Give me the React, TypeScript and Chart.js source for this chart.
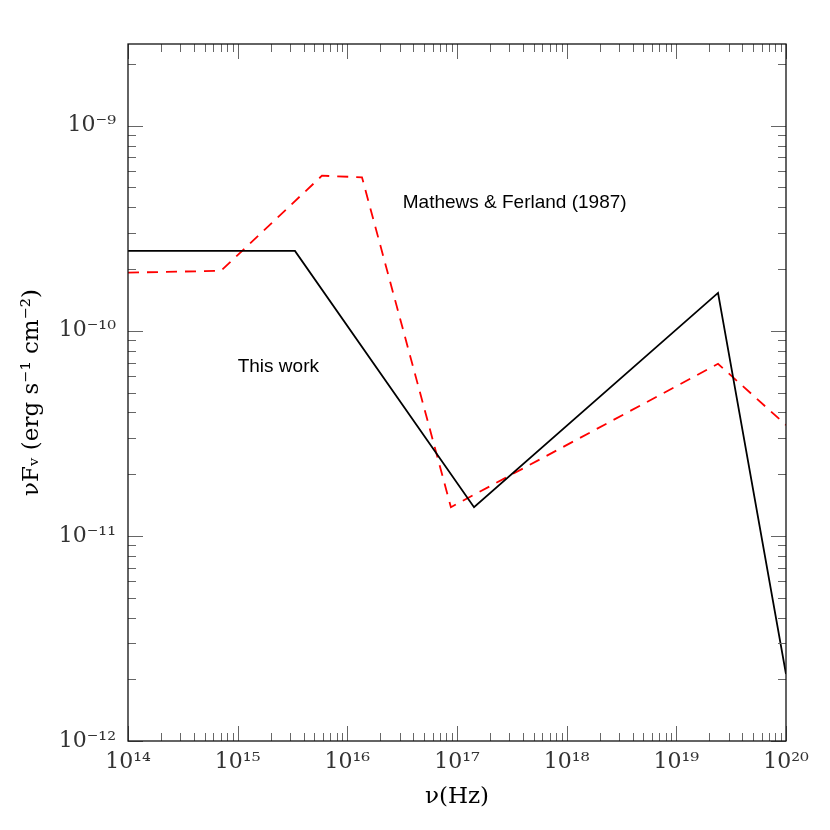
import React, { useEffect, useRef } from "react";
import { Chart, registerables } from "chart.js";

Chart.register(...registerables);

// Data
const thisWorkNu = [1e14, 3.33e15, 1.43e17, 2.4e19, 1e20];
const thisWorkFlux = [2.45e-10, 2.45e-10, 1.38e-11, 1.53e-10, 2.12e-12];

const mathewsNu = [1e14, 7.05e14, 5.87e15, 1.36e16, 8.8e16, 2.4e19, 1e20];
const mathewsFlux = [1.92e-10, 1.96e-10, 5.7e-10, 5.6e-10, 1.38e-11, 6.9e-11, 3.47e-11];

const xDecades = [14, 15, 16, 17, 18, 19, 20];
const yDecades = [-12, -11, -10, -9];

const annotations = [
  { text: "Mathews & Ferland (1987)", nu: 3.2e16, flux: 4.2e-10 },
  { text: "This work", nu: 1.0e15, flux: 6.67e-11 },
];

const supMap: Record<string, string> = {
  "0": "\u2070", "1": "\u00b9", "2": "\u00b2", "3": "\u00b3", "4": "\u2074",
  "5": "\u2075", "6": "\u2076", "7": "\u2077", "8": "\u2078", "9": "\u2079", "-": "\u207b",
};
const sup = (n: number) => String(n).split("").map((c) => supMap[c]).join("");

const pow10Label = (v: number) => {
  const e = Math.round(Math.log10(v));
  return "10" + sup(e);
};

const tickPlugin = {
  id: "inwardTicks",
  afterDraw(chart: any) {
    const { ctx, chartArea, scales } = chart;
    const { left, right, top, bottom } = chartArea;
    const xs = scales.x;
    const ys = scales.y;
    ctx.save();
    ctx.strokeStyle = "#666";
    ctx.lineWidth = 1;
    const major = 15;
    const minor = 8;
    for (let e = xDecades[0]; e <= xDecades[xDecades.length - 1]; e++) {
      for (let m = 1; m <= 9; m++) {
        const v = m * Math.pow(10, e);
        if (v > xs.max * 1.0001 || v < xs.min * 0.9999) continue;
        const px = Math.round(xs.getPixelForValue(v)) + 0.5;
        const len = m === 1 ? major : minor;
        ctx.beginPath();
        ctx.moveTo(px, bottom);
        ctx.lineTo(px, bottom - len);
        ctx.moveTo(px, top);
        ctx.lineTo(px, top + len);
        ctx.stroke();
      }
    }
    for (let e = yDecades[0]; e <= yDecades[yDecades.length - 1]; e++) {
      for (let m = 1; m <= 9; m++) {
        const v = m * Math.pow(10, e);
        if (v > ys.max * 1.0001 || v < ys.min * 0.9999) continue;
        const py = Math.round(ys.getPixelForValue(v)) + 0.5;
        const len = m === 1 ? major : minor;
        ctx.beginPath();
        ctx.moveTo(left, py);
        ctx.lineTo(left + len, py);
        ctx.moveTo(right, py);
        ctx.lineTo(right - len, py);
        ctx.stroke();
      }
    }
    ctx.strokeStyle = "#111";
    ctx.lineWidth = 1.3;
    ctx.strokeRect(left, top, right - left, bottom - top);

    ctx.fillStyle = "#000";
    ctx.font = '19px "Liberation Sans", Arial, sans-serif';
    ctx.textBaseline = "middle";
    ctx.textAlign = "left";
    for (const a of annotations) {
      ctx.fillText(a.text, xs.getPixelForValue(a.nu), ys.getPixelForValue(a.flux));
    }
    ctx.restore();
  },
};

export default function App() {
  const ref = useRef<HTMLCanvasElement>(null);
  useEffect(() => {
    if (!ref.current) return;
    const chart = new Chart(ref.current, {
      type: "line",
      data: {
        datasets: [
          {
            label: "This work",
            data: thisWorkNu.map((x, i) => ({ x, y: thisWorkFlux[i] })),
            borderColor: "#000",
            borderWidth: 1.8,
            pointRadius: 0,
            fill: false,
            tension: 0,
          },
          {
            label: "Mathews & Ferland (1987)",
            data: mathewsNu.map((x, i) => ({ x, y: mathewsFlux[i] })),
            borderColor: "#ff0000",
            borderWidth: 1.8,
            borderDash: [11, 8],
            pointRadius: 0,
            fill: false,
            tension: 0,
          },
        ],
      },
      plugins: [tickPlugin],
      options: {
        animation: false,
        responsive: false,
        devicePixelRatio: 1,
        layout: { padding: { top: 44, right: 44, left: 0, bottom: 0 } },
        plugins: {
          legend: { display: false },
          tooltip: { enabled: false },
        },
        scales: {
          x: {
            type: "logarithmic",
            min: 1e14,
            max: 1e20,
            afterBuildTicks: (scale: any) => {
              scale.ticks = xDecades.map((e) => ({ value: Math.pow(10, e) }));
            },
            afterFit: (scale: any) => {
              scale.height = 89;
            },
            grid: { display: false, drawTicks: false },
            border: { display: false },
            ticks: {
              autoSkip: false,
              maxRotation: 0,
              padding: 8,
              color: "#333",
              font: { family: '"DejaVu Serif", serif', size: 22 },
              callback: (v: any) => pow10Label(Number(v)),
            },
            title: {
              display: true,
              text: "\u03bd(Hz)",
              color: "#000",
              font: { family: '"DejaVu Serif", serif', size: 23 },
              padding: { top: 0, bottom: 19 },
            },
          },
          y: {
            type: "logarithmic",
            min: 1e-12,
            max: 2.5e-9,
            afterBuildTicks: (scale: any) => {
              scale.ticks = yDecades.map((e) => ({ value: Math.pow(10, e) }));
            },
            afterFit: (scale: any) => {
              scale.width = 128;
            },
            grid: { display: false, drawTicks: false },
            border: { display: false },
            ticks: {
              autoSkip: false,
              padding: 12,
              color: "#333",
              font: { family: '"DejaVu Serif", serif', size: 22 },
              callback: (v: any) => pow10Label(Number(v)),
            },
            title: {
              display: true,
              text: "\u03bdF\u1d65 (erg s\u207b\u00b9 cm\u207b\u00b2)",
              color: "#000",
              font: { family: '"DejaVu Serif", serif', size: 23 },
              padding: { top: 18, bottom: 0 },
            },
          },
        },
      },
    } as any);
    return () => chart.destroy();
  }, []);
  return (
    <div style={{ position: "fixed", left: 0, top: 0, width: 830, height: 830, background: "#fff" }}>
      <canvas ref={ref} width={830} height={830} style={{ width: 830, height: 830 }} />
    </div>
  );
}
